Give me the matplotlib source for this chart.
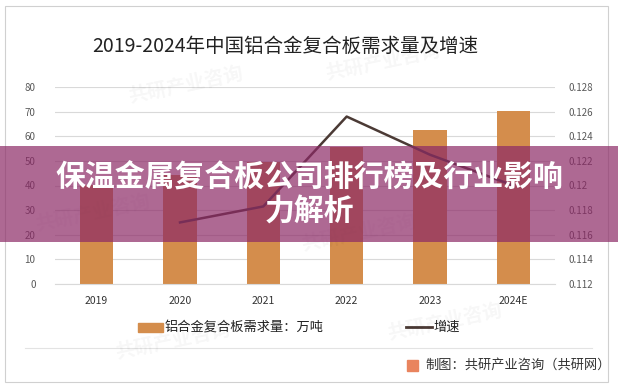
# 2019-2024 aluminium composite panel demand and growth chart
import numpy as np
import matplotlib
matplotlib.use("Agg")
import matplotlib.pyplot as plt
from matplotlib.patches import Rectangle
from matplotlib.lines import Line2D

plt.rcParams['font.family'] = ['Noto Sans CJK SC', 'DejaVu Sans']

years = ["2019", "2020", "2021", "2022", "2023", "2024E"]
demand = [40.2, 44.3, 49.6, 55.7, 62.6, 70.3]
growth = [np.nan, 0.1170, 0.1183, 0.1256, 0.1225, 0.1200]

bar_color = "#D48D4C"
line_color = "#4B3A35"
grid_color = "#D9D9D9"
tick_color = "#595959"

W, H = 618, 388


def fx(px):
    return px / W


def fy(py):
    return 1 - py / H


fig = plt.figure(figsize=(6.18, 3.88), dpi=100)
fig.patch.set_facecolor("white")

# outer frame
fig.patches.append(Rectangle((fx(5), fy(382)), fx(603), 376 / H, transform=fig.transFigure,
                             fill=False, edgecolor="#D0D0D0", linewidth=0.8))

ax = fig.add_axes([fx(55), fy(284), fx(500), 197 / H])
x = np.arange(len(years))
ax.bar(x, demand, width=0.4, color=bar_color, zorder=2)
ax.set_xlim(-0.5, len(years) - 0.5)
ax.set_ylim(0, 80)
ax.set_yticks(range(0, 81, 10))
ax.set_xticks(x)
ax.set_xticklabels(years)
ax.yaxis.grid(True, color=grid_color, linewidth=0.8, zorder=0)
ax.set_axisbelow(True)
for s in ax.spines.values():
    s.set_visible(False)
ax.spines['bottom'].set_visible(True)
ax.spines['bottom'].set_color(grid_color)
ax.tick_params(axis='both', length=0, labelsize=7, colors=tick_color)
ax.tick_params(axis='x', pad=9, labelsize=7.5, colors="#333333")
ax.tick_params(axis='y', pad=14)

ax2 = ax.twinx()
ax2.plot(x, growth, color=line_color, linewidth=1.8, zorder=3)
ax2.set_ylim(0.112, 0.128)
rticks = np.arange(0.112, 0.1281, 0.002)
ax2.set_yticks(rticks)
ax2.set_yticklabels(["{:g}".format(round(v, 3)) for v in rticks])
for s in ax2.spines.values():
    s.set_visible(False)
ax2.tick_params(axis='y', length=0, labelsize=7, colors=tick_color, pad=10)

fig.text(fx(285), fy(46), "2019-2024年中国铝合金复合板需求量及增速",
         ha="center", va="center", fontsize=14, color="#222222")

# legend, drawn by hand
fig.patches.append(Rectangle((fx(138), fy(332)), fx(25), 9 / H, transform=fig.transFigure,
                             color=bar_color))
fig.text(fx(165), fy(327), "铝合金复合板需求量：万吨", ha="left", va="center",
         fontsize=9.5, color="#222222")
fig.add_artist(Line2D([fx(406), fx(432)], [fy(327), fy(327)], color=line_color, linewidth=2))
fig.text(fx(433), fy(327), "增速", ha="left", va="center", fontsize=9.5, color="#222222")

# separator and source
fig.add_artist(Line2D([fx(25), fx(592)], [fy(348), fy(348)], color="#E3E3E3", linewidth=0.8))
fig.patches.append(Rectangle((fx(407), fy(371)), fx(11), 11 / H,
                             transform=fig.transFigure, color="#E9845E"))
fig.text(fx(425), fy(365), "制图：共研产业咨询（共研网）", ha="left", va="center",
         fontsize=9.5, color="#333333")

# faint watermarks
for wx, wy in [(0.30, 0.78), (0.62, 0.84), (0.15, 0.45), (0.58, 0.40), (0.28, 0.12), (0.72, 0.17)]:
    fig.text(wx, wy, "共研产业咨询", fontsize=14, color="#000000", alpha=0.035,
             rotation=12, ha="center", va="center", fontweight="bold")

# overlay banner
fig.patches.append(Rectangle((0, fy(242)), 1, 96 / H, transform=fig.transFigure,
                             facecolor=(0.55, 0.16, 0.40), alpha=0.7, zorder=10))
fig.text(0.5, fy(178), "保温金属复合板公司排行榜及行业影响", ha="center", va="center",
         fontsize=21.5, fontweight="bold", color="white", zorder=11)
fig.text(0.5, fy(212), "力解析", ha="center", va="center",
         fontsize=21.5, fontweight="bold", color="white", zorder=11)

fig.savefig("out.png", dpi=100)
